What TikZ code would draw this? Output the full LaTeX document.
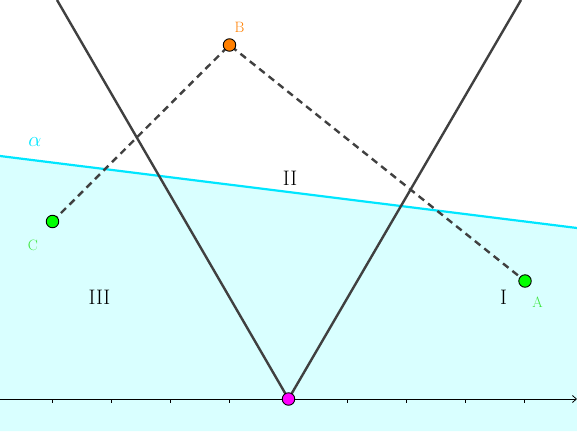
\documentclass[tikz,border=0pt]{standalone}
\usepackage{fontspec}
\setmainfont{Latin Modern Roman}
\usetikzlibrary{arrows.meta}
\definecolor{shadecol}{RGB}{217,255,255}
\definecolor{alphacol}{RGB}{0,230,255}
\definecolor{darkline}{RGB}{64,64,64}
\definecolor{ptorange}{RGB}{255,127,0}
\definecolor{ptgreen}{RGB}{0,255,0}
\definecolor{ptmagenta}{RGB}{255,0,255}
\definecolor{lblgreen}{RGB}{60,230,60}
\tikzset{
  pt/.style={circle,draw=black,line width=0.9pt,inner sep=0pt,minimum size=12.5pt},
  vline/.style={draw=darkline,line width=2.4pt},
  dline/.style={draw=darkline,line width=2.4pt,dash pattern=on 7pt off 5pt},
  region/.style={font=\fontsize{21}{21}\selectfont},
  ptlabel/.style={font=\fontsize{15}{15}\selectfont}
}
\begin{document}
\begin{tikzpicture}[x=1pt,y=-1pt]
\useasboundingbox (0,0) rectangle (577,431);
\fill[fill=shadecol] (0,156) -- (577,228) -- (577,431) -- (0,431) -- cycle;
\coordinate (La) at (0,156);
\coordinate (Lb) at (577,228);
\draw[alphacol,line width=2.2pt] (La) -- (Lb);
% axis
\coordinate (X0) at (0,399);
\coordinate (X1) at (577,399);
\draw[black,line width=0.8pt,-{Straight Barb[length=4pt,width=7pt]}] (X0) -- (X1);
\foreach \i in {0,...,8}{
  \draw[black,line width=0.8pt] (52.6+59*\i,399) -- (52.6+59*\i,403);
}
% V lines
\coordinate (TL) at (57,0);
\coordinate (TR) at (521,0);
\coordinate (O) at (288.5,399);
\draw[vline] (TL) -- (O) -- (TR);
% dashed
\coordinate (A) at (525,281);
\coordinate (B) at (229.5,45);
\coordinate (C) at (52.5,221.5);
\draw[dline] (C) -- (B) -- (A);
\node[pt,fill=ptgreen] (nA) at (A) {};
\node[pt,fill=ptorange] (nB) at (B) {};
\node[pt,fill=ptgreen] (nC) at (C) {};
\node[pt,fill=ptmagenta] (nO) at (O) {};
\node[ptlabel,text=ptorange] (lB) at (239.5,27) {B};
\node[ptlabel,text=lblgreen] (lC) at (33,245) {C};
\node[ptlabel,text=lblgreen] (lA) at (537.5,302) {A};
\node[font=\fontsize{20}{20}\selectfont,text=alphacol] (lal) at (35,142) {$\alpha$};
\node[region] (r2) at (290,178) {II};
\node[region] (r3) at (99.5,297) {III};
\node[region] (r1) at (503.5,297) {I};
\end{tikzpicture}
\end{document}
